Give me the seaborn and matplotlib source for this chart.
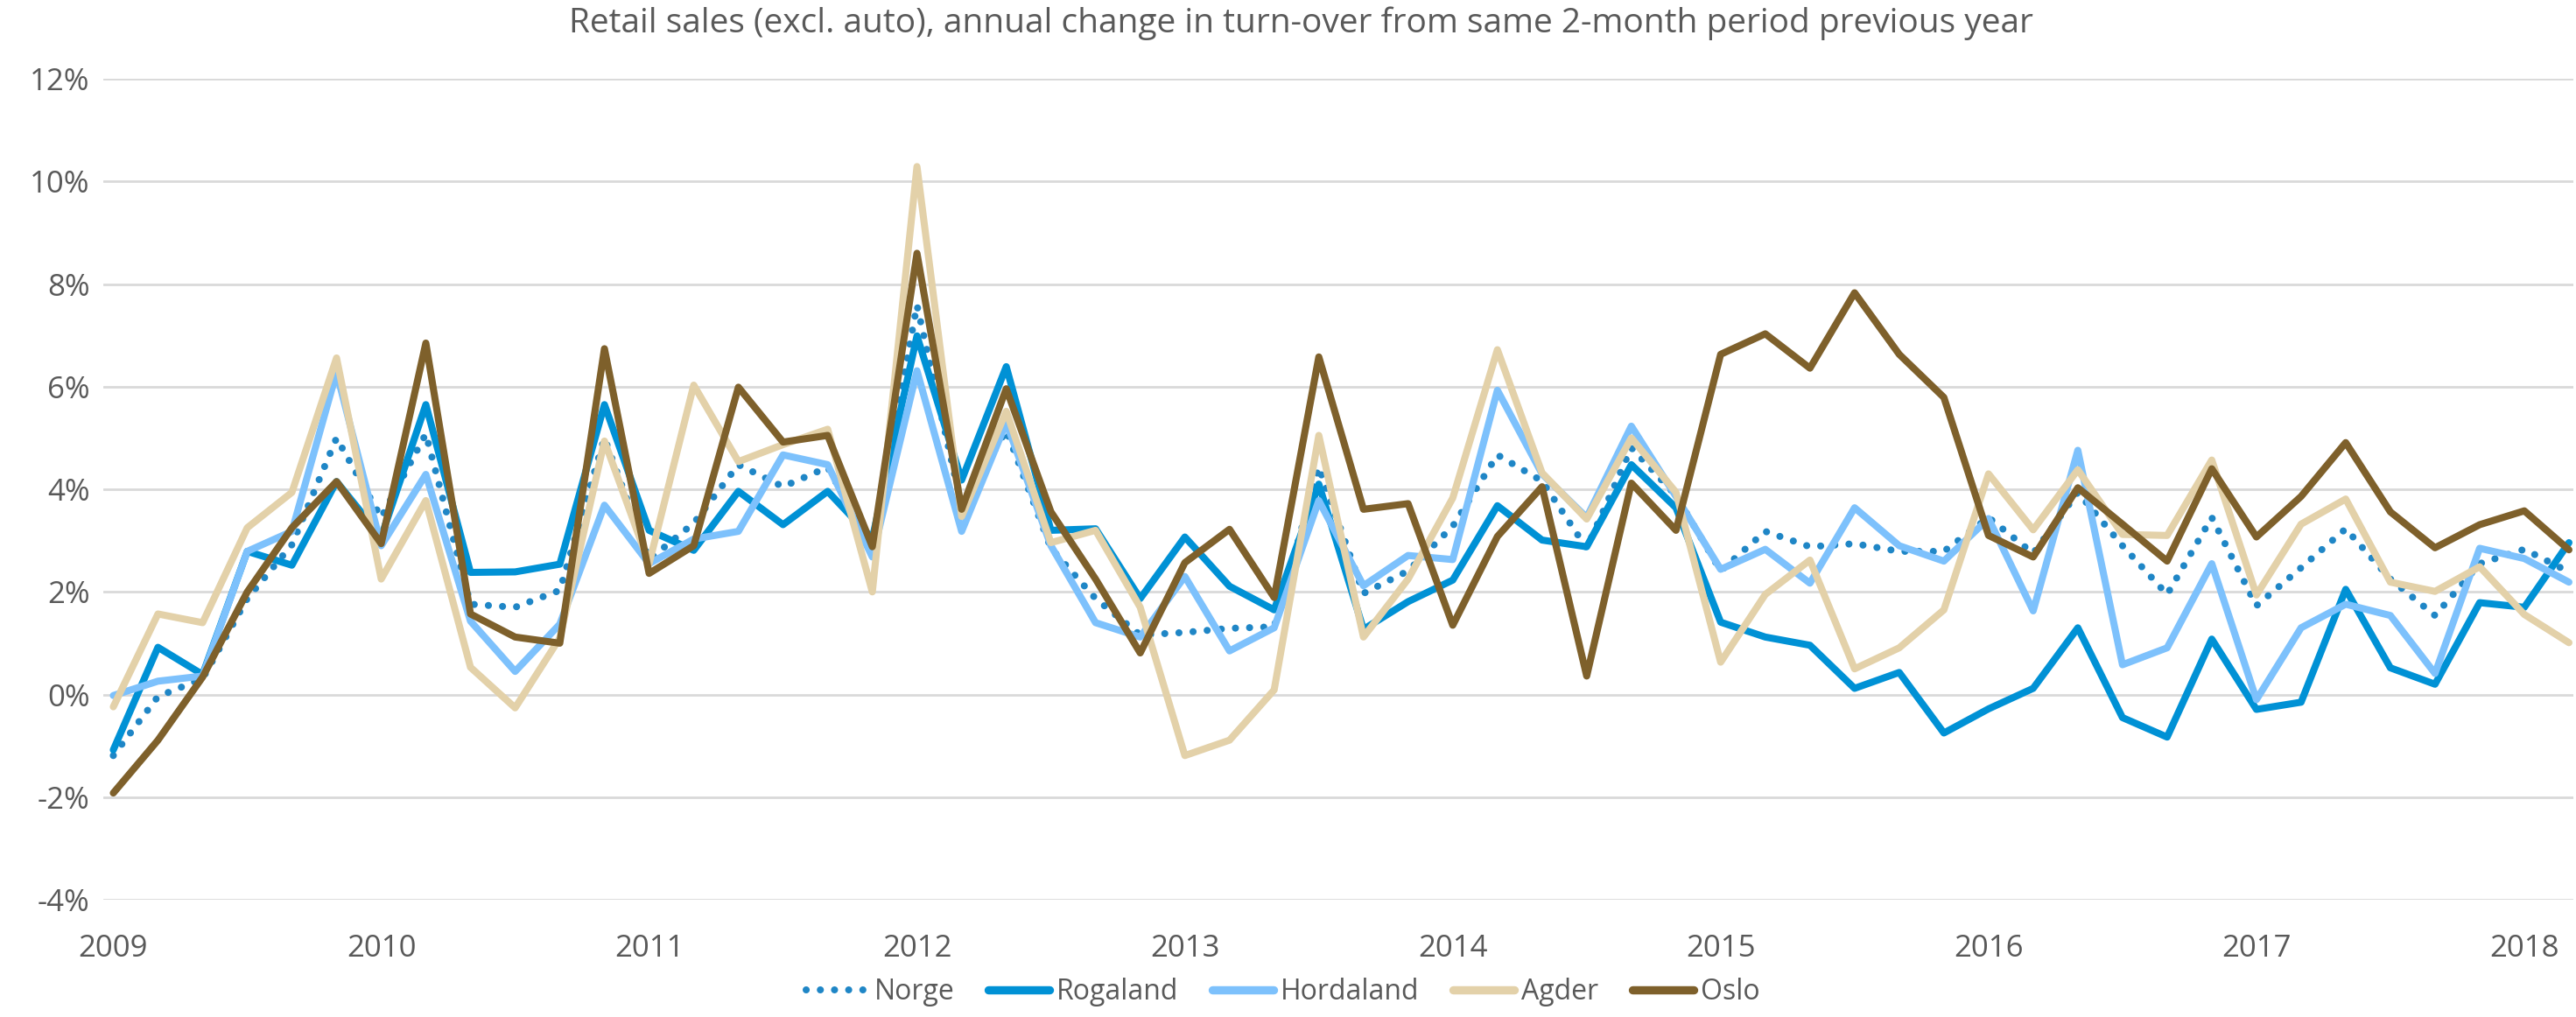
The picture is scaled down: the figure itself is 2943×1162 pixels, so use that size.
import numpy as np
import pandas as pd
import matplotlib
matplotlib.use("Agg")
import matplotlib.pyplot as plt
from matplotlib.ticker import FuncFormatter, FixedLocator
from matplotlib.lines import Line2D
import seaborn as sns

sns.set_theme(style="white")
plt.rcParams["font.family"] = ["Open Sans", "DejaVu Sans"]

# ---------------------------------------------------------------------------
# DATA: annual change (%) per 2-month period, Jan-Feb 2009 .. Mar-Apr 2018
# ---------------------------------------------------------------------------
years = [str(y) for y in range(2009, 2019)]

norge = [-1.19, -0.04, 0.31, 1.87, 2.92, 5.00, 3.45, 5.08, 1.76, 1.70,
         2.03, 5.00, 2.63, 3.34, 4.48, 4.05, 4.43, 2.85, 7.59, 3.67,
         5.15, 2.85, 1.87, 1.16, 1.21, 1.29, 1.32, 4.43, 1.97, 2.41,
         3.28, 4.67, 4.16, 2.85, 4.81, 3.88, 2.41, 3.18, 2.88, 2.94,
         2.79, 2.79, 3.45, 2.75, 3.94, 2.90, 1.95, 3.45, 1.73, 2.47,
         3.23, 2.25, 1.54, 2.55, 2.83, 2.39]

rogaland = [-1.08, 0.92, 0.39, 2.79, 2.52, 4.15, 3.07, 5.65, 2.38, 2.39,
            2.54, 5.65, 3.20, 2.81, 3.96, 3.31, 3.96, 3.04, 6.99, 4.18,
            6.39, 3.20, 3.23, 1.87, 3.07, 2.11, 1.65, 4.10, 1.27, 1.81,
            2.23, 3.68, 3.01, 2.88, 4.48, 3.64, 1.41, 1.12, 0.96, 0.12,
            0.43, -0.75, -0.28, 0.12, 1.30, -0.45, -0.83, 1.08, -0.29, -0.15,
            2.05, 0.52, 0.20, 1.79, 1.70, 2.96]

hordaland = [-0.02, 0.26, 0.36, 2.79, 3.18, 6.28, 2.90, 4.29, 1.43, 0.45,
             1.37, 3.69, 2.55, 3.03, 3.18, 4.67, 4.48, 2.68, 6.31, 3.18,
             5.30, 2.90, 1.40, 1.12, 2.30, 0.85, 1.30, 3.78, 2.12, 2.71,
             2.63, 5.93, 4.30, 3.45, 5.23, 3.86, 2.44, 2.83, 2.17, 3.64,
             2.90, 2.60, 3.43, 1.63, 4.76, 0.58, 0.91, 2.55, -0.10, 1.30,
             1.76, 1.54, 0.41, 2.85, 2.65, 2.19]

agder = [-0.24, 1.57, 1.40, 3.25, 3.94, 6.56, 2.25, 3.78, 0.53, -0.26,
         1.10, 4.94, 2.55, 6.03, 4.54, 4.87, 5.17, 2.00, 10.29, 3.47,
         5.52, 2.96, 3.20, 1.70, -1.19, -0.89, 0.09, 5.05, 1.12, 2.25,
         3.83, 6.72, 4.32, 3.42, 5.00, 3.94, 0.63, 1.95, 2.62, 0.50,
         0.91, 1.65, 4.30, 3.21, 4.38, 3.12, 3.10, 4.57, 1.94, 3.32,
         3.81, 2.19, 2.01, 2.49, 1.56, 1.01]

oslo = [-1.92, -0.89, 0.34, 2.00, 3.25, 4.15, 2.94, 6.85, 1.57, 1.12,
        1.00, 6.74, 2.36, 2.90, 5.99, 4.92, 5.05, 2.88, 8.60, 3.61,
        5.96, 3.56, 2.25, 0.81, 2.57, 3.22, 1.89, 6.58, 3.61, 3.72,
        1.35, 3.08, 4.05, 0.36, 4.12, 3.20, 6.63, 7.03, 6.36, 7.83,
        6.63, 5.79, 3.10, 2.68, 4.03, 3.32, 2.60, 4.40, 3.07, 3.86,
        4.91, 3.56, 2.86, 3.31, 3.58, 2.82]

series = {"Norge": norge, "Rogaland": rogaland, "Hordaland": hordaland,
          "Agder": agder, "Oslo": oslo}
colors = {"Norge": "#1F86C6", "Rogaland": "#0091D5", "Hordaland": "#7DC1FC",
          "Agder": "#E3D1A9", "Oslo": "#7E602B"}

period = np.arange(len(norge))
df = pd.DataFrame([
    {"period": p, "region": name, "change": v}
    for name, vals in series.items() for p, v in zip(period, vals)
])

# ---------------------------------------------------------------------------
# PLOT
# ---------------------------------------------------------------------------
TEXT = "#595959"
FS = 25
LW = 5.8

fig = plt.figure(figsize=(29.43, 11.62), dpi=100)
ax = fig.add_axes([0.040, 0.1153, 0.959, 0.8072])

dot_style = (0, (0.01, 2.0))
for name in series:
    sub = df[df["region"] == name]
    sns.lineplot(data=sub, x="period", y="change", ax=ax, color=colors[name],
                 linewidth=LW, legend=False, sort=False)
    line = ax.lines[-1]
    line.set_solid_capstyle("round")
    line.set_solid_joinstyle("round")
    if name == "Norge":
        line.set_linestyle(dot_style)
        line.set_dash_capstyle("round")

ax.set_xlim(-0.23, 55.1)
ax.set_ylim(-4, 12)
ax.yaxis.set_major_locator(FixedLocator(np.arange(-4, 13, 2)))
ax.yaxis.set_major_formatter(FuncFormatter(lambda v, _: f"{v:.0f}%"))
ax.xaxis.set_major_locator(FixedLocator(period[::6]))
ax.set_xticklabels(years)

ax.grid(axis="y", color="#D9D9D9", linewidth=2)
ax.grid(axis="x", visible=False)
ax.set_axisbelow(True)
for s in ax.spines.values():
    s.set_visible(False)
ax.tick_params(axis="y", length=0, pad=11, labelsize=FS, labelcolor=TEXT)
ax.tick_params(axis="x", length=0, pad=28, labelsize=FS, labelcolor=TEXT)
ax.set_xlabel("")
ax.set_ylabel("")

fig.text(0.505, 1 - 27 / 1162,
         "Retail sales (excl. auto), annual change in turn-over from same 2-month period previous year",
         ha="center", va="center", fontsize=28, color=TEXT)

handles = []
for name in series:
    if name == "Norge":
        h = Line2D([], [], color=colors[name], linewidth=LW, linestyle=dot_style,
                   dash_capstyle="round")
    else:
        h = Line2D([], [], color=colors[name], linewidth=LW + 1, solid_capstyle="round")
    handles.append(h)
fig.legend(handles, list(series), loc="center", bbox_to_anchor=(0.498, 1 - 1134 / 1162),
           ncol=5, frameon=False, fontsize=23, labelcolor=TEXT,
           handlelength=2.2, handletextpad=0.25, columnspacing=1.2)

plt.savefig("out.png", dpi=100)
plt.close()
